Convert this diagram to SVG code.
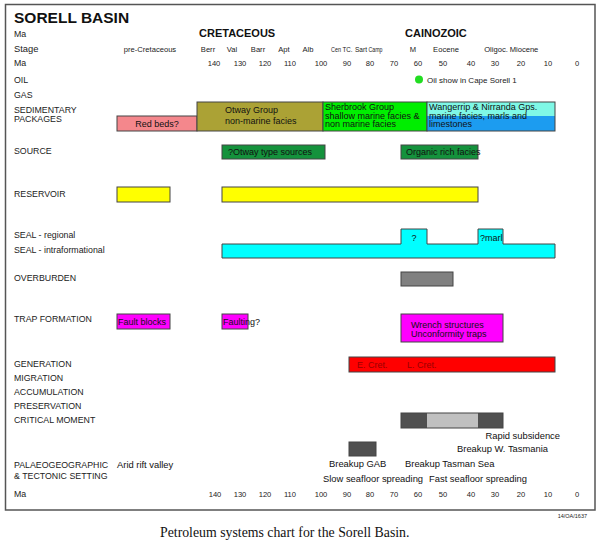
<svg xmlns="http://www.w3.org/2000/svg" width="600" height="546" viewBox="0 0 600 546">
<style>
text{font-family:"Liberation Sans",Arial,sans-serif;fill:#222}
.lab{font-size:8.8px}
.stg{font-size:7.6px;text-anchor:middle}
.stn{font-size:7px}
.ax{font-size:7.6px;text-anchor:middle}
.era{font-size:11px;font-weight:bold;fill:#111}
.bx{stroke:#444;stroke-width:1}
.in{font-size:9px;fill:#111}
.tc{font-size:9.4px;fill:#111}
</style>
<rect x="0" y="0" width="600" height="546" fill="#fff"/>
<rect x="5.5" y="4.5" width="589.5" height="505.5" fill="none" stroke="#555" stroke-width="1.5"/>
<text x="14" y="23" style="font-size:15.5px;font-weight:bold;fill:#111">SORELL BASIN</text>
<g id="rowlabels" class="lab">
<text x="14" y="37">Ma</text>
<text x="14" y="52" style="font-size:9.4px">Stage</text>
<text x="14" y="66">Ma</text>
<text x="14" y="83">OIL</text>
<text x="14" y="98">GAS</text>
<text x="14" y="113">SEDIMENTARY</text>
<text x="14" y="122">PACKAGES</text>
<text x="14" y="154">SOURCE</text>
<text x="14" y="197">RESERVOIR</text>
<text x="14" y="238">SEAL - regional</text>
<text x="14" y="253">SEAL - intraformational</text>
<text x="14" y="281">OVERBURDEN</text>
<text x="14" y="322">TRAP FORMATION</text>
<text x="14" y="367">GENERATION</text>
<text x="14" y="381">MIGRATION</text>
<text x="14" y="395">ACCUMULATION</text>
<text x="14" y="409">PRESERVATION</text>
<text x="14" y="423">CRITICAL MOMENT</text>
<text x="14" y="468">PALAEOGEOGRAPHIC</text>
<text x="14" y="479">&amp; TECTONIC SETTING</text>
<text x="14" y="497">Ma</text>
</g>
<g id="eras">
<text class="era" x="199" y="37">CRETACEOUS</text>
<text class="era" x="405" y="37">CAINOZOIC</text>
</g>
<g id="stages" class="stg">
<text x="150" y="52">pre-Cretaceous</text>
<text x="208" y="52">Berr</text>
<text x="232" y="52">Val</text>
<text x="258" y="52">Barr</text>
<text x="284" y="52">Apt</text>
<text x="308" y="52">Alb</text>
<text class="stn" x="331" y="52" text-anchor="start" textLength="10" lengthAdjust="spacingAndGlyphs">Cen</text>
<text class="stn" x="342.5" y="52" text-anchor="start" textLength="10" lengthAdjust="spacingAndGlyphs">TC.</text>
<text class="stn" x="355" y="52" text-anchor="start" textLength="12" lengthAdjust="spacingAndGlyphs">Sart</text>
<text class="stn" x="368.5" y="52" text-anchor="start" textLength="14" lengthAdjust="spacingAndGlyphs">Camp</text>
<text x="413" y="52">M</text>
<text x="446" y="52">Eocene</text>
<text x="496" y="52">Oligoc.</text>
<text x="524" y="52">Miocene</text>
</g>
<g id="axis-top" class="ax">
<text x="214" y="66">140</text><text x="240" y="66">130</text><text x="265" y="66">120</text><text x="290" y="66">110</text>
<text x="321" y="66">100</text><text x="347" y="66">90</text><text x="370" y="66">80</text><text x="394" y="66">70</text>
<text x="418" y="66">60</text><text x="443" y="66">50</text><text x="471" y="66">40</text><text x="495" y="66">30</text>
<text x="521" y="66">20</text><text x="548" y="66">10</text><text x="577" y="66">0</text>
</g>
<g id="axis-bottom" class="ax">
<text x="215" y="497">140</text><text x="240" y="497">130</text><text x="265" y="497">120</text><text x="290" y="497">110</text>
<text x="321" y="497">100</text><text x="347" y="497">90</text><text x="370" y="497">80</text><text x="394" y="497">70</text>
<text x="418" y="497">60</text><text x="443" y="497">50</text><text x="471" y="497">40</text><text x="495" y="497">30</text>
<text x="521" y="497">20</text><text x="548" y="497">10</text><text x="577" y="497">0</text>
</g>
<g id="oil">
<circle cx="419" cy="79.5" r="4" fill="#22dd22"/>
<text x="427" y="83" style="font-size:8px">Oil show in Cape Sorell 1</text>
</g>
<g id="sedimentary">
<rect class="bx" x="117" y="116" width="80" height="15" fill="#f4878c"/>
<text x="157" y="127" class="in" text-anchor="middle">Red beds?</text>
<rect class="bx" x="197" y="102" width="126" height="29" fill="#aba235"/>
<text x="225" y="113" class="in">Otway Group</text>
<text x="225" y="124" class="in">non-marine facies</text>
<rect class="bx" x="323" y="102" width="104" height="29" fill="#00ee00"/>
<text x="325" y="110" class="in">Sherbrook Group</text>
<text x="325" y="118.5" class="in">shallow marine facies &amp;</text>
<text x="325" y="127" class="in">non marine facies</text>
<rect x="427" y="102" width="128" height="14" fill="#7ff8e6"/>
<rect x="427" y="116" width="128" height="15" fill="#1c9cf0"/>
<rect class="bx" x="427" y="102" width="128" height="29" fill="none"/>
<text x="429" y="110" class="in">Wangerrip &amp; Nirranda Gps.</text>
<text x="429" y="118.5" class="in">marine facies, marls and</text>
<text x="429" y="127" class="in">limestones</text>
</g>
<g id="source">
<rect class="bx" x="222" y="145" width="103" height="14" fill="#14923c"/>
<text x="228" y="155" class="in">?Otway type sources</text>
<rect class="bx" x="401" y="145" width="77" height="14" fill="#14923c"/>
<text x="406" y="155" class="in">Organic rich facies</text>
</g>
<g id="reservoir">
<rect class="bx" x="117" y="187" width="53" height="15" fill="#ffff00"/>
<rect class="bx" x="222" y="187" width="256" height="15" fill="#ffff00"/>
</g>
<g id="seal">
<path class="bx" d="M222 244H401V229H427V244H478V229H503V244H555V258H222Z" fill="#00ffff"/>
<text x="414" y="241" class="in" text-anchor="middle">?</text>
<text x="480" y="241" class="in">?marl</text>
</g>
<g id="overburden">
<rect class="bx" x="401" y="272" width="52" height="14" fill="#808080"/>
</g>
<g id="trap">
<rect class="bx" x="117" y="314" width="53" height="15" fill="#ff00ff"/>
<text x="118" y="325" class="in">Fault blocks</text>
<rect class="bx" x="222" y="314" width="26" height="15" fill="#ff00ff"/>
<text x="223" y="325" class="in">Faulting?</text>
<rect class="bx" x="401" y="314" width="102" height="28" fill="#ff00ff"/>
<text x="411" y="328" class="in">Wrench structures</text>
<text x="411" y="337" class="in">Unconformity traps</text>
</g>
<g id="generation">
<rect class="bx" x="349" y="357" width="206" height="15" fill="#ff0000"/>
<text x="357" y="368" class="in" style="fill:#9a0000">E. Cret.</text>
<text x="407" y="368" class="in" style="fill:#9a0000">L. Cret.</text>
</g>
<g id="critical">
<rect x="401" y="413" width="102" height="15" fill="#505050"/>
<rect x="427" y="413" width="51" height="15" fill="#c0c0c0"/>
<rect class="bx" x="401" y="413" width="102" height="15" fill="none"/>
</g>
<g id="tectonic">
<text x="117" y="468" class="tc">Arid rift valley</text>
<text x="560" y="439" class="tc" text-anchor="end">Rapid subsidence</text>
<text x="457" y="452" class="tc">Breakup W. Tasmania</text>
<rect class="bx" x="349" y="442" width="27" height="14" fill="#505050"/>
<text x="329" y="467" class="tc">Breakup GAB</text>
<text x="405" y="467" class="tc">Breakup Tasman Sea</text>
<text x="323" y="482" class="tc">Slow seafloor spreading</text>
<text x="429" y="482" class="tc">Fast seafloor spreading</text>
</g>
<text x="587" y="518" text-anchor="end" style="font-size:5.5px">14/OA/1637</text>
<text x="160" y="537" style="font-family:'Liberation Serif','Times New Roman',serif;font-size:13.8px;fill:#111">Petroleum systems chart for the Sorell Basin.</text>
</svg>
